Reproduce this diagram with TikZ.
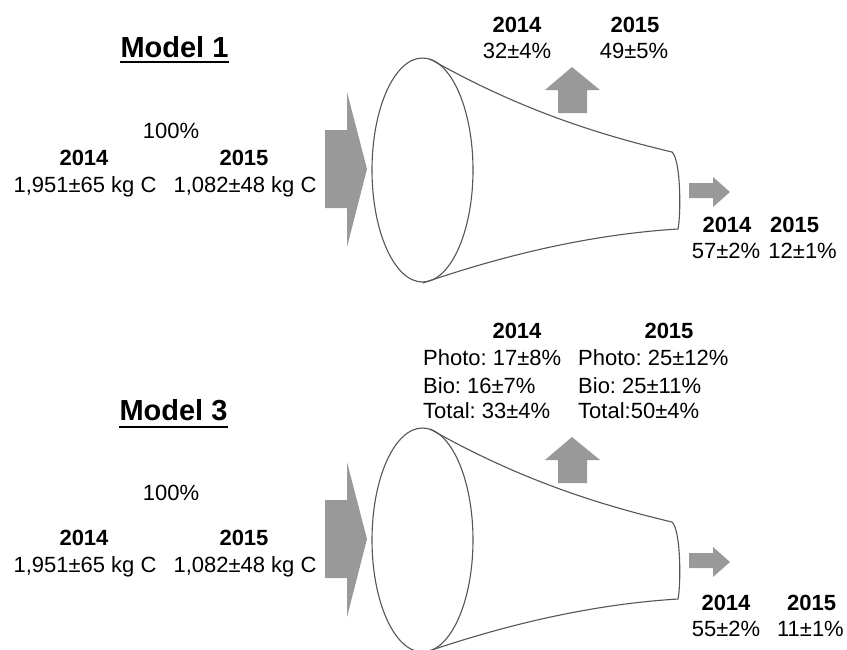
\documentclass[tikz,border=0pt]{standalone}
\usepackage{fontspec}
\setmainfont{Liberation Sans}
\frenchspacing
\definecolor{linegray}{HTML}{555555}
\definecolor{arrowgray}{HTML}{999999}
\begin{document}
\begin{tikzpicture}[x=1pt,y=-1pt,
  txt/.style={inner sep=0pt, anchor=base, font=\fontsize{22}{26}\selectfont},
  yr/.style={inner sep=0pt, anchor=base, font=\fontsize{22}{26}\selectfont\bfseries},
  lft/.style={inner sep=0pt, anchor=base west, font=\fontsize{22}{26}\selectfont},
  rgt/.style={inner sep=0pt, anchor=base east, font=\fontsize{22}{26}\selectfont},
  lftyr/.style={inner sep=0pt, anchor=base west, font=\fontsize{22}{26}\selectfont\bfseries},
  ttl/.style={inner sep=0pt, anchor=base, font=\fontsize{29}{34}\selectfont\bfseries},
  funnel/.style={draw=linegray, line width=1.1pt},
  blockarrow/.style={fill=arrowgray, draw=none},
  funnelpic/.pic={
    \fill[blockarrow] (325,130) -- (347,130) -- (347,92) -- (367,169) -- (347,247) -- (347,208) -- (325,208) -- cycle;
    \draw[funnel] (422.5,170) ellipse [x radius=50.5pt, y radius=112pt];
    \draw[funnel] (430,59) .. controls (520,110) and (600,135) .. (672,152)
      .. controls (681,160) and (681,215) .. (678,229)
      .. controls (580,235) and (490,260) .. (423,283);
    \fill[blockarrow] (558,113) -- (558,90) -- (545,90) -- (572,67) -- (600,90) -- (587,90) -- (587,113) -- cycle;
    \fill[blockarrow] (689,183) -- (713,183) -- (713,177) -- (730,192) -- (713,207) -- (713,198) -- (689,198) -- cycle;
  }]
\useasboundingbox (0,0) rectangle (847,649);
\fill[white] (0,0) rectangle (847,649);
\clip (0,0) rectangle (847,649);

% ---------- Model 1 ----------
\pic at (0,0) {funnelpic};
\node[ttl] (m1) at (174.5,57) {Model 1};
\draw[line width=2pt] ([yshift=-5pt]m1.base west) -- ([yshift=-5pt]m1.base east);
\node[txt] (a100) at (171,138) {100\%};
\node[yr] (a14) at (84,165) {2014};
\node[txt] (a14v) at (85,192) {1,951±65 kg C};
\node[yr] (a15) at (244,165) {2015};
\node[txt] (a15v) at (245,192) {1,082±48 kg C};
\node[yr] (t14) at (517,32) {2014};
\node[txt] (t14v) at (517,58) {32±4\%};
\node[yr] (t15) at (635,32) {2015};
\node[txt] (t15v) at (634,58) {49±5\%};
\node[yr] (r14) at (727,232) {2014};
\node[txt] (r14v) at (726,258) {57±2\%};
\node[lftyr] (r15) at (770,232) {2015};
\node[rgt] (r15v) at (837,258) {12±1\%};

% ---------- Model 3 ----------
\pic at (0,370) {funnelpic};
\node[ttl] (m3) at (173.5,420) {Model 3};
\draw[line width=2pt] ([yshift=-7pt]m3.base west) -- ([yshift=-7pt]m3.base east);
\node[txt] (b100) at (171,500) {100\%};
\node[yr] (b14) at (84,545) {2014};
\node[txt] (b14v) at (85,572) {1,951±65 kg C};
\node[yr] (b15) at (244,545) {2015};
\node[txt] (b15v) at (245,572) {1,082±48 kg C};
\node[yr] (u14) at (517,338) {2014};
\node[lft] (u14a) at (423,365) {Photo: 17±8\%};
\node[lft] (u14b) at (423,393) {Bio: 16±7\%};
\node[lft] (u14c) at (423,418) {Total: 33±4\%};
\node[yr] (u15) at (669,338) {2015};
\node[lft] (u15a) at (578,365) {Photo: 25±12\%};
\node[lft] (u15b) at (578,393) {Bio: 25±11\%};
\node[lft] (u15c) at (578,418) {Total:50±4\%};
\node[yr] (s14) at (726,610) {2014};
\node[txt] (s14v) at (726,636) {55±2\%};
\node[lftyr] (s15) at (787,610) {2015};
\node[rgt] (s15v) at (844,636) {11±1\%};
\end{tikzpicture}
\end{document}
